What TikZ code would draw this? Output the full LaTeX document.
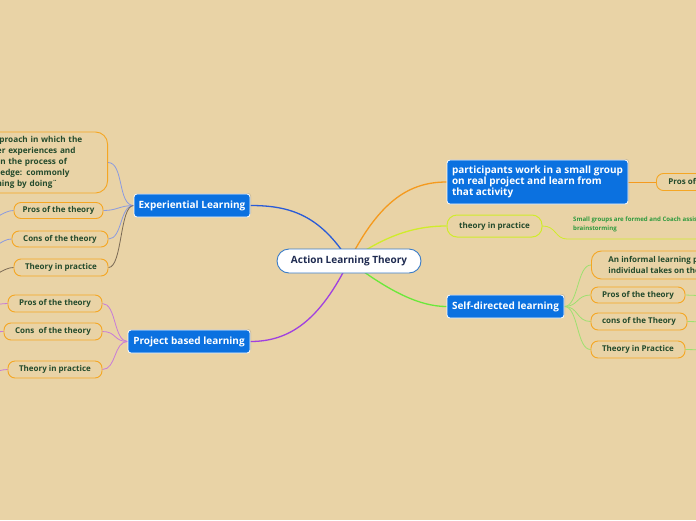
\documentclass[tikz,border=0pt]{standalone}
\usepackage{fontspec}
\setmainfont{Open Sans}
\usetikzlibrary{shadows,backgrounds}
\pgfdeclarelayer{bgfill}
\pgfsetlayers{bgfill,background,main}
\definecolor{bg}{HTML}{E9D3A6}
\definecolor{nodeblue}{HTML}{0B71E0}
\definecolor{borange}{HTML}{F5A623}
\definecolor{txtgreen}{HTML}{234A2C}
\definecolor{centertxt}{HTML}{1E2A50}
\definecolor{centerbd}{HTML}{3A7CC8}
\definecolor{cblue}{HTML}{2A5BD7}
\definecolor{cpurple}{HTML}{A040E0}
\definecolor{corange}{HTML}{F59A1E}
\definecolor{cyellow}{HTML}{D0EC2A}
\definecolor{cgreen}{HTML}{6BE83A}
\definecolor{lblue}{HTML}{8A9AE0}
\definecolor{lbrown}{HTML}{7A6A55}
\definecolor{lpurple}{HTML}{C77BD8}
\definecolor{lgreen}{HTML}{9EE070}
\definecolor{smallgreen}{HTML}{2E9A3E}
\begin{document}
\begin{tikzpicture}[x=1pt,y=-1pt,
  bluebox/.style={rectangle, rounded corners=3, fill=nodeblue, draw=white, line width=0.8,
    text=white, font=\fontsize{10}{11}\selectfont\bfseries, inner sep=0,
    drop shadow={opacity=0.3, shadow xshift=1, shadow yshift=-1}},
  obox/.style={rectangle, rounded corners=7, draw=borange, line width=0.9, text=txtgreen,
    font=\fontsize{8}{9}\selectfont\bfseries, inner sep=0, minimum height=16},
  mainline/.style={line width=1.3},
  subline/.style={line width=0.8}
]
\useasboundingbox (0,0) rectangle (696,520);
\clip (0,0) rectangle (696,520);
\begin{pgfonlayer}{bgfill}
\fill[bg] (0,0) rectangle (696,520);
\end{pgfonlayer}

% central
\node[rectangle, rounded corners=12, fill=white, draw=centerbd, line width=0.9, text=centertxt,
  font=\fontsize{10}{11}\selectfont\bfseries, minimum width=144, minimum height=24, inner sep=0]
  (c) at (349,261) {Action Learning Theory};

% main branches
\node[bluebox, minimum width=116, minimum height=23] (exp) at (192,205.5) {Experiential Learning};
\node[bluebox, minimum width=122, minimum height=23] (proj) at (189,341.5) {Project based learning};
\node[bluebox, minimum width=181, minimum height=44, align=left]
  (part) at (537.5,182) {participants work in a small group\\on real project and learn from\\that activity};
\node[rectangle, rounded corners=10, draw=cyellow, line width=1, text=txtgreen,
  font=\fontsize{8}{9}\selectfont\bfseries, minimum width=95, minimum height=22, inner sep=0]
  (tip) at (494.5,226) {theory in practice};
\node[bluebox, minimum width=117, minimum height=23] (self) at (505.5,306.5) {Self-directed learning};

% experiential children
\node[obox, rounded corners=12, anchor=east, text width=124, inner xsep=8, minimum height=61,
  align=left, font=\fontsize{8.2}{11}\selectfont\bfseries] (desc) at (108,162.5)
  {An approach in which the\\learner experiences and\\joins in the process of\\knowledge: commonly\\¨learning by doing¨};
\node[obox, minimum width=89] (e1) at (58.5,210.5) {Pros of the theory};
\node[obox, minimum width=96] (e2) at (60,239) {Cons of the theory};
\node[obox, minimum width=94, minimum height=17] (e3) at (61,267.5) {Theory in practice};

% project children
\node[obox, minimum width=94, minimum height=17] (p1) at (55,303.5) {Pros of the theory};
\node[obox, minimum width=98, minimum height=17] (p2) at (53,331.5) {Cons\ \ of the theory};
\node[obox, minimum width=94, minimum height=17] (p3) at (55,369.5) {Theory in practice};

% participants child
\node[obox, anchor=west, minimum height=17, inner xsep=12] (pr) at (656,182) {Pros of the theory};

% small text
\node[anchor=north west, inner sep=0, align=left, text=smallgreen,
  font=\fontsize{6.1}{9}\selectfont\bfseries] (st) at (573,216.5)
  {Small groups are formed and Coach assists the team in\\brainstorming};
\coordinate (ul) at (567,239);
\coordinate (ulend) at (700,239);

% self-directed children
\node[obox, rounded corners=10, anchor=west, minimum height=28, inner xsep=17, align=left,
  font=\fontsize{8}{11}\selectfont\bfseries] (s1) at (591,265)
  {An informal learning process in which the\\individual takes on the initiative};
\node[obox, minimum width=94] (s2) at (638,295) {Pros of the theory};
\node[obox, minimum width=96, minimum height=17] (s3) at (639,321.5) {cons of the Theory};
\node[obox, minimum width=94, minimum height=17] (s4) at (638,349.5) {Theory in Practice};

% off-canvas ends
\coordinate (oe1) at (-14,221);
\coordinate (oe2) at (-14,250);
\coordinate (oe3) at (-14,278);
\coordinate (op1) at (-10,305);
\coordinate (op2) at (-10,332);
\coordinate (op3) at (-10,372);
\coordinate (os2) at (710,296);
\coordinate (os3) at (710,322);
\coordinate (os4) at (710,350);

\begin{scope}[on background layer]
\draw[mainline, cblue] (c.center) .. controls (320,215) and (290,205.5) .. (exp.east);
\draw[mainline, cpurple] (c.center) .. controls (320,320) and (290,341.5) .. (proj.east);
\draw[mainline, corange] (c.center) .. controls (380,200) and (410,182) .. (part.west);
\draw[mainline, cyellow] (c.center) .. controls (390,232) and (420,226) .. (tip.west);
\draw[mainline, cgreen] (c.center) .. controls (390,292) and (420,306.5) .. (self.west);

\draw[subline, lblue] (exp.west) .. controls +(-16,0) and +(16,0) .. (desc.east);
\draw[subline, lblue] (exp.west) .. controls +(-14,0) and +(14,0) .. (e1.east);
\draw[subline, lblue] (exp.west) .. controls +(-14,0) and +(14,0) .. (e2.east);
\draw[subline, lbrown] (exp.west) .. controls +(-14,0) and +(14,0) .. (e3.east);
\draw[subline, lblue] (e1.west) .. controls +(-10,0) and +(8,0) .. (oe1);
\draw[subline, lblue] (e2.west) .. controls +(-10,0) and +(8,0) .. (oe2);
\draw[subline, lbrown] (e3.west) .. controls +(-10,0) and +(8,0) .. (oe3);

\draw[subline, lpurple] (proj.west) .. controls +(-14,0) and +(14,0) .. (p1.east);
\draw[subline, lpurple] (proj.west) .. controls +(-14,0) and +(14,0) .. (p2.east);
\draw[subline, lpurple] (proj.west) .. controls +(-14,0) and +(14,0) .. (p3.east);
\draw[subline, lpurple] (p1.west) .. controls +(-6,0) and +(6,0) .. (op1);
\draw[subline, lpurple] (p2.west) .. controls +(-6,0) and +(6,0) .. (op2);
\draw[subline, lpurple] (p3.west) .. controls +(-6,0) and +(6,0) .. (op3);

\draw[subline, corange] (part.east) -- (pr.west);
\draw[subline, cyellow] (tip.east) .. controls +(14,0) and +(-12,0) .. (ul) -- (ulend);

\draw[subline, lgreen] (self.east) .. controls +(14,0) and +(-14,0) .. (s1.west);
\draw[subline, lgreen] (self.east) .. controls +(14,0) and +(-14,0) .. (s2.west);
\draw[subline, lgreen] (self.east) .. controls +(14,0) and +(-14,0) .. (s3.west);
\draw[subline, lgreen] (self.east) .. controls +(14,0) and +(-14,0) .. (s4.west);
\draw[subline, lgreen] (s2.east) -- (os2);
\draw[subline, lgreen] (s3.east) -- (os3);
\draw[subline, lgreen] (s4.east) -- (os4);
\end{scope}
\end{tikzpicture}
\end{document}
